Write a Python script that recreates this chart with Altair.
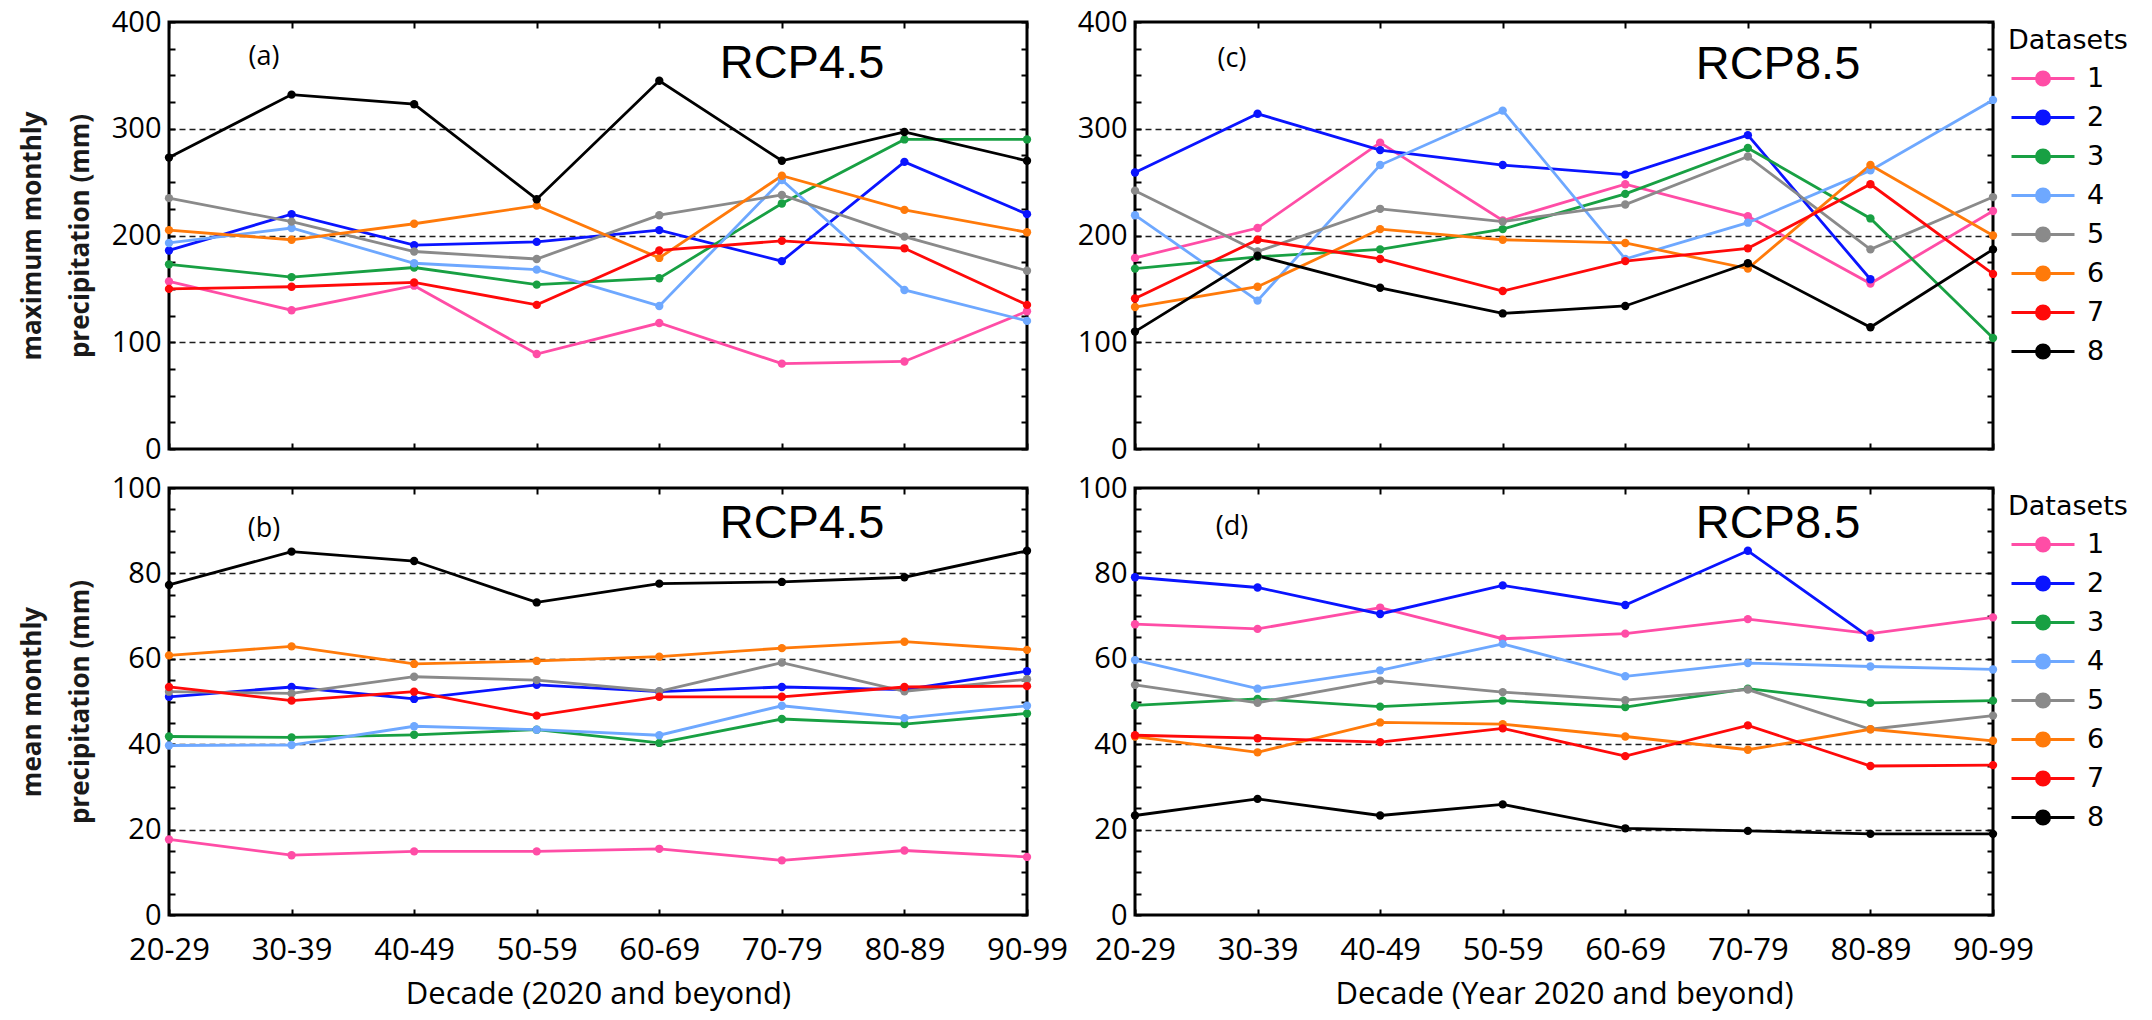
import altair as alt
import pandas as pd

decades = ["20-29", "30-39", "40-49", "50-59", "60-69", "70-79", "80-89", "90-99"]
datasets = ["1", "2", "3", "4", "5", "6", "7", "8"]
series_colors = ["#FF4DA6", "#0A14FF", "#18A043", "#6EA8FF", "#8A8A8A", "#FF7A0A", "#FF0A0A", "#000000"]

# (a) maximum monthly precipitation, RCP4.5 (datasets 1..8)
max_rcp45 = [
    [157, 130, 153, 89, 118, 80, 82, 129],
    [186, 220, 191, 194, 205, 176, 269, 220],
    [173, 161, 170, 154, 160, 230, 290, 290],
    [193, 207, 174, 168, 134, 252, 149, 120],
    [235, 213, 185, 178, 219, 238, 199, 167],
    [205, 196, 211, 228, 179, 256, 224, 203],
    [150, 152, 156, 135, 186, 195, 188, 135],
    [273, 332, 323, 234, 345, 270, 297, 270],
]
# (b) mean monthly precipitation, RCP4.5
mean_rcp45 = [
    [17.7, 14.0, 14.9, 14.9, 15.5, 12.8, 15.1, 13.6],
    [51.1, 53.4, 50.6, 53.9, 52.3, 53.4, 52.8, 57.1],
    [41.8, 41.6, 42.2, 43.4, 40.3, 45.9, 44.7, 47.2],
    [39.7, 39.8, 44.2, 43.4, 42.1, 49.0, 46.1, 49.0],
    [52.3, 51.9, 55.8, 55.0, 52.4, 59.1, 52.4, 55.2],
    [60.8, 62.9, 58.8, 59.5, 60.5, 62.5, 64.0, 62.1],
    [53.4, 50.2, 52.3, 46.7, 51.1, 51.1, 53.4, 53.6],
    [77.3, 85.1, 82.9, 73.2, 77.6, 78.0, 79.1, 85.3],
]
# (c) maximum monthly precipitation, RCP8.5
max_rcp85 = [
    [179, 207, 287, 214, 248, 218, 155, 223],
    [259, 314, 280, 266, 257, 294, 159, None],
    [169, 180, 187, 206, 239, 282, 216, 104],
    [219, 139, 266, 317, 178, 212, 261, 327],
    [242, 185, 225, 213, 229, 274, 187, 236],
    [133, 152, 206, 196, 193, 169, 266, 200],
    [141, 196, 178, 148, 176, 188, 248, 164],
    [110, 181, 151, 127, 134, 174, 114, 187],
]
# (d) mean monthly precipitation, RCP8.5
mean_rcp85 = [
    [68.1, 67.0, 72.0, 64.7, 65.9, 69.3, 65.9, 69.7],
    [79.1, 76.7, 70.5, 77.2, 72.6, 85.3, 64.9, None],
    [49.1, 50.6, 48.8, 50.2, 48.7, 53.0, 49.7, 50.2],
    [59.7, 53.0, 57.3, 63.5, 55.9, 59.0, 58.2, 57.5],
    [53.9, 49.7, 54.9, 52.2, 50.3, 52.8, 43.5, 46.7],
    [41.8, 38.1, 45.1, 44.7, 41.8, 38.7, 43.5, 40.8],
    [42.1, 41.4, 40.5, 43.7, 37.2, 44.4, 34.9, 35.1],
    [23.3, 27.2, 23.3, 25.9, 20.3, 19.7, 19.0, 19.0],
]

panel_tags = ["(a)", "(b)", "(c)", "(d)"]
scenarios = ["RCP4.5", "RCP4.5", "RCP8.5", "RCP8.5"]
y_titles = [["maximum monthly", "precipitation (mm)"], ["mean monthly", "precipitation (mm)"]]
x_titles = ["Decade (2020 and beyond)", "Decade (Year 2020 and beyond)"]
legend_title = "Datasets"

TICK_FONT = "Open Sans"
PW, PH = 858, 427
LEG_PATH = "M-1,0L5.3,0M1.5,0A0.65,0.65,0,1,1,2.8,0A0.65,0.65,0,1,1,1.5,0Z"


def long_df(rows):
    recs = []
    for ds, vals in zip(datasets, rows):
        for dec, v in zip(decades, vals):
            if v is not None:
                recs.append({"decade": dec, "dataset": ds, "value": v})
    return pd.DataFrame(recs)


def tick_axis(orient, values=None):
    kw = dict(orient=orient, offset=-6, ticks=True, tickSize=6, tickWidth=2,
              tickColor="black", labels=False, domain=False, grid=False, title=None)
    if values is not None:
        kw["values"] = values
    return alt.Axis(**kw)


def panel(rows, ymax, major, minor, grid_vals, ytitle, xtitle, tag, scen, show_legend,
          tag_xy, scen_xy):
    df = long_df(rows)
    xs = alt.Scale(type="point", domain=decades, padding=0)
    ys = alt.Scale(domain=[0, ymax], nice=False, zero=True)
    cs = alt.Scale(domain=datasets, range=series_colors)
    base = alt.Chart(df)

    if show_legend:
        leg = alt.Legend(orient="none", legendX=PW + 15, legendY=6, title=legend_title,
                         titleFont="DejaVu Sans", titleFontSize=27, titleFontWeight="normal",
                         titleColor="black", titlePadding=10, labelFont="DejaVu Sans",
                         labelFontSize=27, labelColor="black", labelOffset=52,
                         symbolType=LEG_PATH, symbolSize=400, symbolStrokeWidth=3,
                         rowPadding=11, padding=0, symbolOpacity=1)
    else:
        leg = None

    if xtitle is not None:
        x_main = alt.X("decade:N", scale=xs, axis=alt.Axis(
            orient="bottom", labels=True, ticks=False, tickSize=0, domain=False, grid=False,
            labelAngle=0, labelFont=TICK_FONT, labelFontSize=31, labelPadding=20,
            labelColor="black", title=xtitle, titleFont=TICK_FONT, titleFontSize=31,
            titleFontWeight="normal", titlePadding=14, titleColor="black"))
    else:
        x_main = alt.X("decade:N", scale=xs, axis=None)

    y_kw = dict(orient="left", values=major, ticks=False, tickSize=0, domain=False, grid=False,
                labelFont=TICK_FONT, labelFontSize=29, labelPadding=8, labelColor="black")
    if ytitle is not None:
        y_kw.update(title=ytitle, titleFont="Open Sans", titleFontSize=26, titleFontWeight="bold",
                    titleColor="#1a1a1a", titleLineHeight=48, titlePadding=18)
    else:
        y_kw.update(title=None)
    y_main = alt.Y("value:Q", scale=ys, axis=alt.Axis(**y_kw))

    grid_layer = base.mark_point(opacity=0).encode(
        x=alt.X("decade:N", scale=xs, axis=None),
        y=alt.Y("value:Q", scale=ys, axis=alt.Axis(
            orient="left", values=grid_vals, grid=True, gridDash=[6, 4], gridColor="#1e1e1e",
            gridWidth=1.7, ticks=False, labels=False, domain=False, title=None)),
    )
    lines = base.mark_line(strokeWidth=2.8).encode(
        x=x_main, y=y_main,
        color=alt.Color("dataset:N", scale=cs, legend=leg),
    )
    points = base.mark_point(filled=True, size=70, opacity=1).encode(
        x=alt.X("decade:N", scale=xs, axis=tick_axis("bottom")),
        y=alt.Y("value:Q", scale=ys, axis=tick_axis("left", minor)),
        fill=alt.Fill("dataset:N", scale=cs, legend=leg),
    )
    ghost = base.mark_point(opacity=0).encode(
        x=alt.X("decade:N", scale=xs, axis=tick_axis("top")),
        y=alt.Y("value:Q", scale=ys, axis=tick_axis("right", minor)),
    )
    tag_text = alt.Chart(pd.DataFrame({"t": [tag]})).mark_text(
        font="Open Sans", fontSize=27, align="center", baseline="middle", color="black"
    ).encode(text="t:N", x=alt.value(tag_xy[0]), y=alt.value(tag_xy[1]))
    scen_text = alt.Chart(pd.DataFrame({"t": [scen]})).mark_text(
        font="Liberation Sans Narrow, Arial Narrow, Liberation Sans", fontSize=47,
        align="center", baseline="middle", color="black"
    ).encode(text="t:N", x=alt.value(scen_xy[0]), y=alt.value(scen_xy[1]))

    return alt.layer(grid_layer, lines, points, ghost, tag_text, scen_text).resolve_axis(
        x="independent", y="independent"
    ).properties(width=PW, height=PH)


pa = panel(max_rcp45, 400, [0, 100, 200, 300, 400], list(range(0, 401, 25)), [100, 200, 300],
           y_titles[0], None, panel_tags[0], scenarios[0], False, (95, 35), (633, 42))
pc = panel(max_rcp85, 400, [0, 100, 200, 300, 400], list(range(0, 401, 25)), [100, 200, 300],
           None, None, panel_tags[2], scenarios[2], True, (97, 37), (643, 43))
pb = panel(mean_rcp45, 100, [0, 20, 40, 60, 80, 100], list(range(0, 101, 5)), [20, 40, 60, 80],
           y_titles[1], x_titles[0], panel_tags[1], scenarios[1], False, (95, 41), (633, 36))
pd_ = panel(mean_rcp85, 100, [0, 20, 40, 60, 80, 100], list(range(0, 101, 5)), [20, 40, 60, 80],
            None, x_titles[1], panel_tags[3], scenarios[3], True, (97, 39), (643, 36))

chart = alt.concat(
    pa, pc, pb, pd_, columns=2, bounds="flush",
    spacing=alt.RowColnumber(row=39, column=108),
).resolve_scale(color="independent", fill="independent").properties(
    padding={"left": 9, "top": -2, "right": 0, "bottom": 0},
    background="white",
).configure_view(stroke="black", strokeWidth=3)

chart.save("out.html", embed_options={"renderer": "svg", "actions": False})
